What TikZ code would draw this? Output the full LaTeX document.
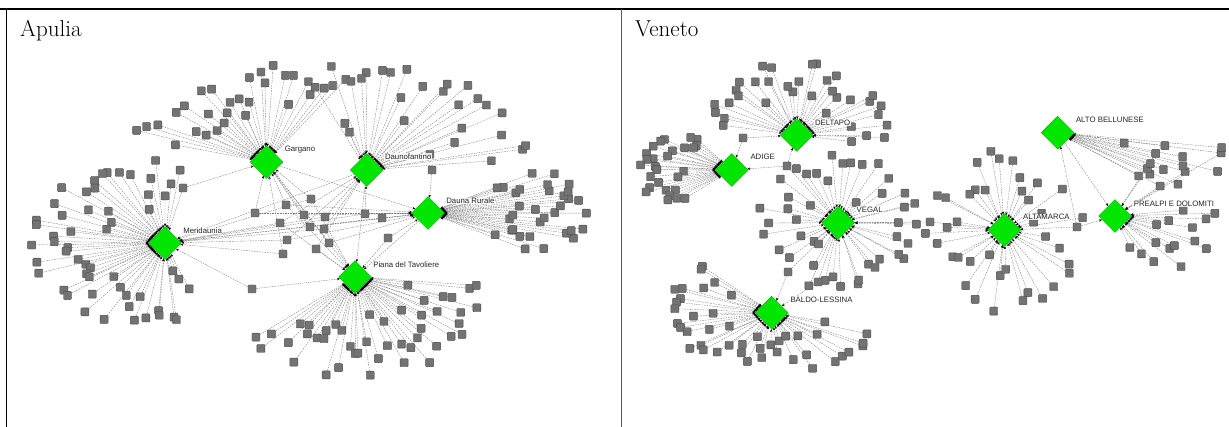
\documentclass[tikz,border=0pt]{standalone}
\usepackage{fontspec}
\newfontfamily\labfont{Liberation Sans}
\usetikzlibrary{shapes.geometric,arrows.meta,calc}
\pgfdeclarelayer{bg}
\pgfsetlayers{bg,main}
\definecolor{hubgreen}{RGB}{0,230,0}
\definecolor{hubedge}{RGB}{0,175,0}
\definecolor{leaffill}{RGB}{115,115,115}
\definecolor{leafedge}{RGB}{75,75,75}
\definecolor{linkgray}{RGB}{120,120,120}
\tikzset{
 hub/.style={diamond, fill=hubgreen, draw=hubedge, line width=0.4pt, minimum width=33pt, minimum height=33pt, inner sep=0pt},
 leaf/.style={rectangle, fill=leaffill, draw=leafedge, line width=0.4pt, minimum size=8pt, inner sep=0pt, rounded corners=0.8pt},
 link/.style={draw=linkgray, line width=0.35pt, dash pattern=on 1.6pt off 1pt, -{Stealth[length=3pt,width=2.4pt,black]}},
 hublab/.style={font=\labfont\fontsize{7.8}{8}\selectfont, text=black!85, anchor=west, inner sep=0.6pt, fill=white, fill opacity=0.85, text opacity=1},
 paneltitle/.style={font=\fontsize{23}{25}\selectfont, anchor=base west, inner sep=0pt},
 frame/.style={line width=1.4pt, draw=black},
 divider/.style={line width=1pt, draw=black!65},
}
% place leaves in an elliptic sector:
% #1 hub, #2 prefix, #3 count, #4 angle from, #5 angle to, #6 x radius, #7 y radius, #8 seed
\newcommand\leaffan[8]{%
 \pgfmathsetseed{#8}%
 \foreach \i in {1,...,#3}{%
  \pgfmathsetmacro\ang{#4+(\i-1+rnd)*(#5-#4)/#3}%
  \pgfmathsetmacro\frac{0.3+0.7*sqrt(rnd)}%
  \pgfmathsetmacro\dx{\frac*#6*cos(\ang)}%
  \pgfmathsetmacro\dy{-\frac*#7*sin(\ang)}%
  \node[leaf] (#2-\i) at ($(#1.center)+(\dx,\dy)$) {};%
 }}
% links of a fan: #1 hub, #2 prefix, #3 count
\newcommand\fanlinks[3]{%
 \foreach \i in {1,...,#3}{\draw[link] (#2-\i) -- (#1);}}
% links of a shared leaf: #1 leaf, #2 hubs
\newcommand\sharedlinks[2]{%
 \foreach \h in {#2}{\draw[link] (#1) -- (\h);}}
\begin{document}
\begin{tikzpicture}[x=1pt,y=-1pt]
\useasboundingbox (0,0) rectangle (1229,427);
% frame
\draw[frame] (0,9) -- (1229,9);
\draw[frame] (6.5,8.3) -- (6.5,427);
\draw[divider] (621,9) -- (621,427);
\node[paneltitle] (t1) at (20,37) {Apulia};
\node[paneltitle] (t2) at (635,37) {Veneto};

% ---------------- Apulia hubs
\node[hub] (G) at (266.5,162) {};
\node[hub] (D) at (366.7,170) {};
\node[hub] (R) at (428,213) {};
\node[hub] (M) at (165,243) {};
\node[hub] (P) at (355,277) {};

\leaffan{G}{g}{30}{55}{165}{150}{100}{11}
\leaffan{D}{d}{27}{5}{115}{165}{108}{12}
\leaffan{R}{r}{33}{-42}{45}{160}{66}{13}
\leaffan{M}{m}{55}{80}{290}{140}{85}{14}
\leaffan{P}{p}{45}{-140}{-5}{145}{100}{15}

\node[leaf] (s1) at (255,213) {};
\node[leaf] (s2) at (286,205) {};
\node[leaf] (s3) at (311,199) {};
\node[leaf] (s4) at (280,223) {};
\node[leaf] (s5) at (304,215) {};
\node[leaf] (s6) at (325,217) {};
\node[leaf] (s7) at (310,227) {};
\node[leaf] (s8) at (324,229) {};
\node[leaf] (s9) at (287,240) {};
\node[leaf] (s10) at (329,243) {};
\node[leaf] (s11) at (316,249) {};
\node[leaf] (s12) at (283,254) {};
\node[leaf] (s13) at (365,214) {};
\node[leaf] (s14) at (382,218) {};
\node[leaf] (s15) at (388,238) {};
\node[leaf] (s16) at (432,170) {};
\node[leaf] (s17) at (252,289) {};
\node[leaf] (s18) at (183,188) {};

\node[hublab] (GL) at ($(G)+(17.5,-12.5)$) {Gargano};
\node[hublab] (DL) at ($(D)+(17.5,-13.5)$) {Daunofantino};
\node[hublab] (RL) at ($(R)+(17.5,-12)$) {Dauna Rurale};
\node[hublab] (ML) at ($(M)+(17.5,-12)$) {Meridaunia};
\node[hublab] (PL) at ($(P)+(17.5,-12)$) {Piana del Tavoliere};

% ---------------- Veneto hubs
\node[hub] (DP) at (796.7,135) {};
\node[hub] (AD) at (731.7,170) {};
\node[hub] (VG) at (838.3,222.7) {};
\node[hub] (BL) at (771.7,312.7) {};
\node[hub] (AB) at (1057.7,132.7) {};
\node[hub] (AM) at (1004.3,230) {};
\node[hub] (PR) at (1115,216) {};

\leaffan{DP}{dp}{34}{-12}{172}{95}{75}{21}
\leaffan{AD}{ad}{28}{122}{228}{95}{55}{22}
\leaffan{VG}{vg}{44}{0}{360}{82}{68}{23}
\leaffan{BL}{bl}{44}{128}{345}{110}{65}{24}
\leaffan{AM}{am}{38}{5}{355}{80}{82}{25}
\leaffan{PR}{pr}{15}{-75}{12}{110}{65}{26}
\leaffan{AB}{ab}{16}{-40}{-6}{170}{115}{27}

\node[leaf] (v1) at (787,166) {};
\node[leaf] (v2) at (788,272) {};
\node[leaf] (v3) at (818,282) {};
\node[leaf] (v4) at (1077,227) {};
\node[leaf] (v5) at (930,222) {};
\node[leaf] (v6) at (743,138) {};

\node[hublab] (DPL) at ($(DP)+(17.5,-12.5)$) {DELTAPO};
\node[hublab] (ADL) at ($(AD)+(18,-13)$) {ADIGE};
\node[hublab] (VGL) at ($(VG)+(17.5,-13)$) {VEGAL};
\node[hublab] (BLL) at ($(BL)+(18,-13)$) {BALDO-LESSINA};
\node[hublab] (ABL) at ($(AB)+(17.5,-13)$) {ALTO BELLUNESE};
\node[hublab] (AML) at ($(AM)+(18,-13)$) {ALTAMARCA};
\node[hublab] (PRL) at ($(PR)+(18,-12)$) {PREALPI E DOLOMITI};

% ---------------- all connectors, behind the nodes
\begin{pgfonlayer}{bg}
\fanlinks{G}{g}{30}
\fanlinks{D}{d}{27}
\fanlinks{R}{r}{33}
\fanlinks{M}{m}{55}
\fanlinks{P}{p}{45}
\sharedlinks{s1}{G,R}
\sharedlinks{s2}{G,P,R}
\sharedlinks{s3}{G,M,P}
\sharedlinks{s4}{D,M,P}
\sharedlinks{s5}{G,R}
\sharedlinks{s6}{D,M}
\sharedlinks{s7}{G,R}
\sharedlinks{s8}{D,M,P}
\sharedlinks{s9}{D,R,M}
\sharedlinks{s10}{G,R}
\sharedlinks{s11}{D,P}
\sharedlinks{s12}{G,M}
\sharedlinks{s13}{D,R,M}
\sharedlinks{s14}{M,R}
\sharedlinks{s15}{P,R}
\sharedlinks{s16}{R}
\sharedlinks{s17}{M,P}
\sharedlinks{s18}{G,M}
\draw[link] (M) -- (R);
\draw[link] (G) -- (P);
\draw[link] (D) -- (P);
\draw[link] (G) -- (R);
\draw[link] (D) -- (M);
\draw[link] (R) -- (P);

\fanlinks{DP}{dp}{34}
\fanlinks{AD}{ad}{28}
\fanlinks{VG}{vg}{44}
\fanlinks{BL}{bl}{44}
\fanlinks{AM}{am}{38}
\fanlinks{PR}{pr}{15}
\fanlinks{AB}{ab}{16}
\sharedlinks{v1}{AD,DP,VG}
\sharedlinks{v2}{VG,BL}
\sharedlinks{v3}{VG,BL}
\sharedlinks{v4}{AM,PR,AB}
\sharedlinks{v5}{VG,AM}
\sharedlinks{v6}{DP,AD}
\draw[link] (AB) -- (PR);
\foreach \i in {2,5,8,11,14}{\draw[link] (ab-\i) -- (PR);}
\end{pgfonlayer}
\end{tikzpicture}
\end{document}
